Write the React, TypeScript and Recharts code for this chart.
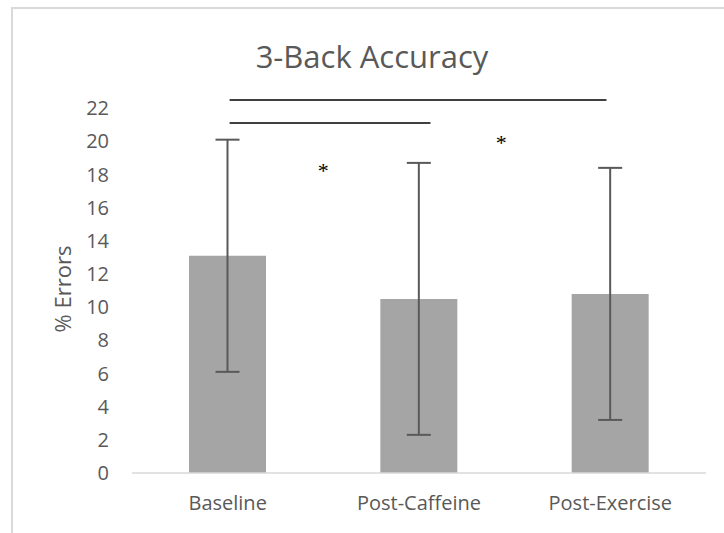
import { Bar, BarChart, ErrorBar, ReferenceDot, ReferenceLine, XAxis, YAxis } from "recharts";

const FONT = "'Open Sans', sans-serif";
const TEXT_COLOR = "#595959";

const categories = ["Baseline", "Post-Caffeine", "Post-Exercise"];
const meanErrors = [13.1, 10.5, 10.8];
const errorRange = [7.0, 8.2, 7.6];
const yTicks = [0, 2, 4, 6, 8, 10, 12, 14, 16, 18, 20, 22];

// significance brackets and stars, x in category units (0..3, centre of bar i = i + 0.5)
const sigLines = [
  { from: 0.51, to: 2.48, level: 22.5 },
  { from: 0.51, to: 1.56, level: 21.1 },
];
const stars = [
  { x: 1.0, y: 18.4 },
  { x: 1.93, y: 20.1 },
];

const data = categories.map((name, i) => ({ name, pos: i + 0.5, value: meanErrors[i], err: errorRange[i] }));

const Star = (props: any) => (
  <text
    x={props.cx}
    y={props.cy + 10}
    textAnchor="middle"
    fontFamily="'Liberation Serif', serif"
    fontSize={22}
    fill="#000"
  >
    *
  </text>
);

export default function App() {
  return (
    <div style={{ position: "fixed", left: 0, top: 0, width: 724, height: 533, overflow: "hidden", background: "#fff" }}>
      <div
        style={{
          position: "absolute",
          left: 11,
          top: 7,
          width: 800,
          height: 600,
          border: "2px solid #d9d9d9",
        }}
      />
      <div
        style={{
          position: "absolute",
          left: 11,
          top: 36,
          width: 722,
          textAlign: "center",
          fontFamily: FONT,
          fontSize: 31,
          color: TEXT_COLOR,
          lineHeight: "40px",
        }}
      >
        3-Back Accuracy
      </div>
      <div style={{ position: "absolute", left: 0, top: 0 }}>
        <BarChart width={724} height={533} data={data} margin={{ top: 75, right: 18, bottom: 30, left: 0 }} barSize={77}>
          <XAxis
            dataKey="name"
            height={30}
            tickSize={0}
            tickMargin={23}
            axisLine={{ stroke: "#d9d9d9", strokeWidth: 1.5 }}
            tickLine={false}
            tick={{ fontSize: 20, fill: TEXT_COLOR, fontFamily: FONT }}
          />
          <XAxis xAxisId="pos" dataKey="pos" type="number" domain={[0, 3]} allowDataOverflow hide />
          <YAxis
            domain={[0, 24]}
            ticks={yTicks}
            width={132}
            axisLine={false}
            tickLine={false}
            tickSize={0}
            tickMargin={23}
            tick={{ fontSize: 20, fill: TEXT_COLOR, fontFamily: FONT }}
            label={({ viewBox }: any) => (
              <text
                x={viewBox.x + 62}
                y={viewBox.y + viewBox.height / 2 + 15}
                transform={`rotate(-90 ${viewBox.x + 62} ${viewBox.y + viewBox.height / 2 + 15})`}
                textAnchor="middle"
                dominantBaseline="central"
                fontFamily={FONT}
                fontSize={22}
                fill={TEXT_COLOR}
              >
                % Errors
              </text>
            )}
          />
          <Bar dataKey="value" fill="#a5a5a5" isAnimationActive={false}>
            <ErrorBar dataKey="err" width={12} stroke="#595959" strokeWidth={2} />
          </Bar>
          {sigLines.map((s, i) => (
            <ReferenceLine
              key={i}
              xAxisId="pos"
              segment={[
                { x: s.from, y: s.level },
                { x: s.to, y: s.level },
              ]}
              stroke="#000"
              strokeWidth={1.5}
              ifOverflow="visible"
            />
          ))}
          {stars.map((s, i) => (
            <ReferenceDot key={i} xAxisId="pos" x={s.x} y={s.y} r={0} ifOverflow="visible" shape={Star} />
          ))}
        </BarChart>
      </div>
    </div>
  );
}
